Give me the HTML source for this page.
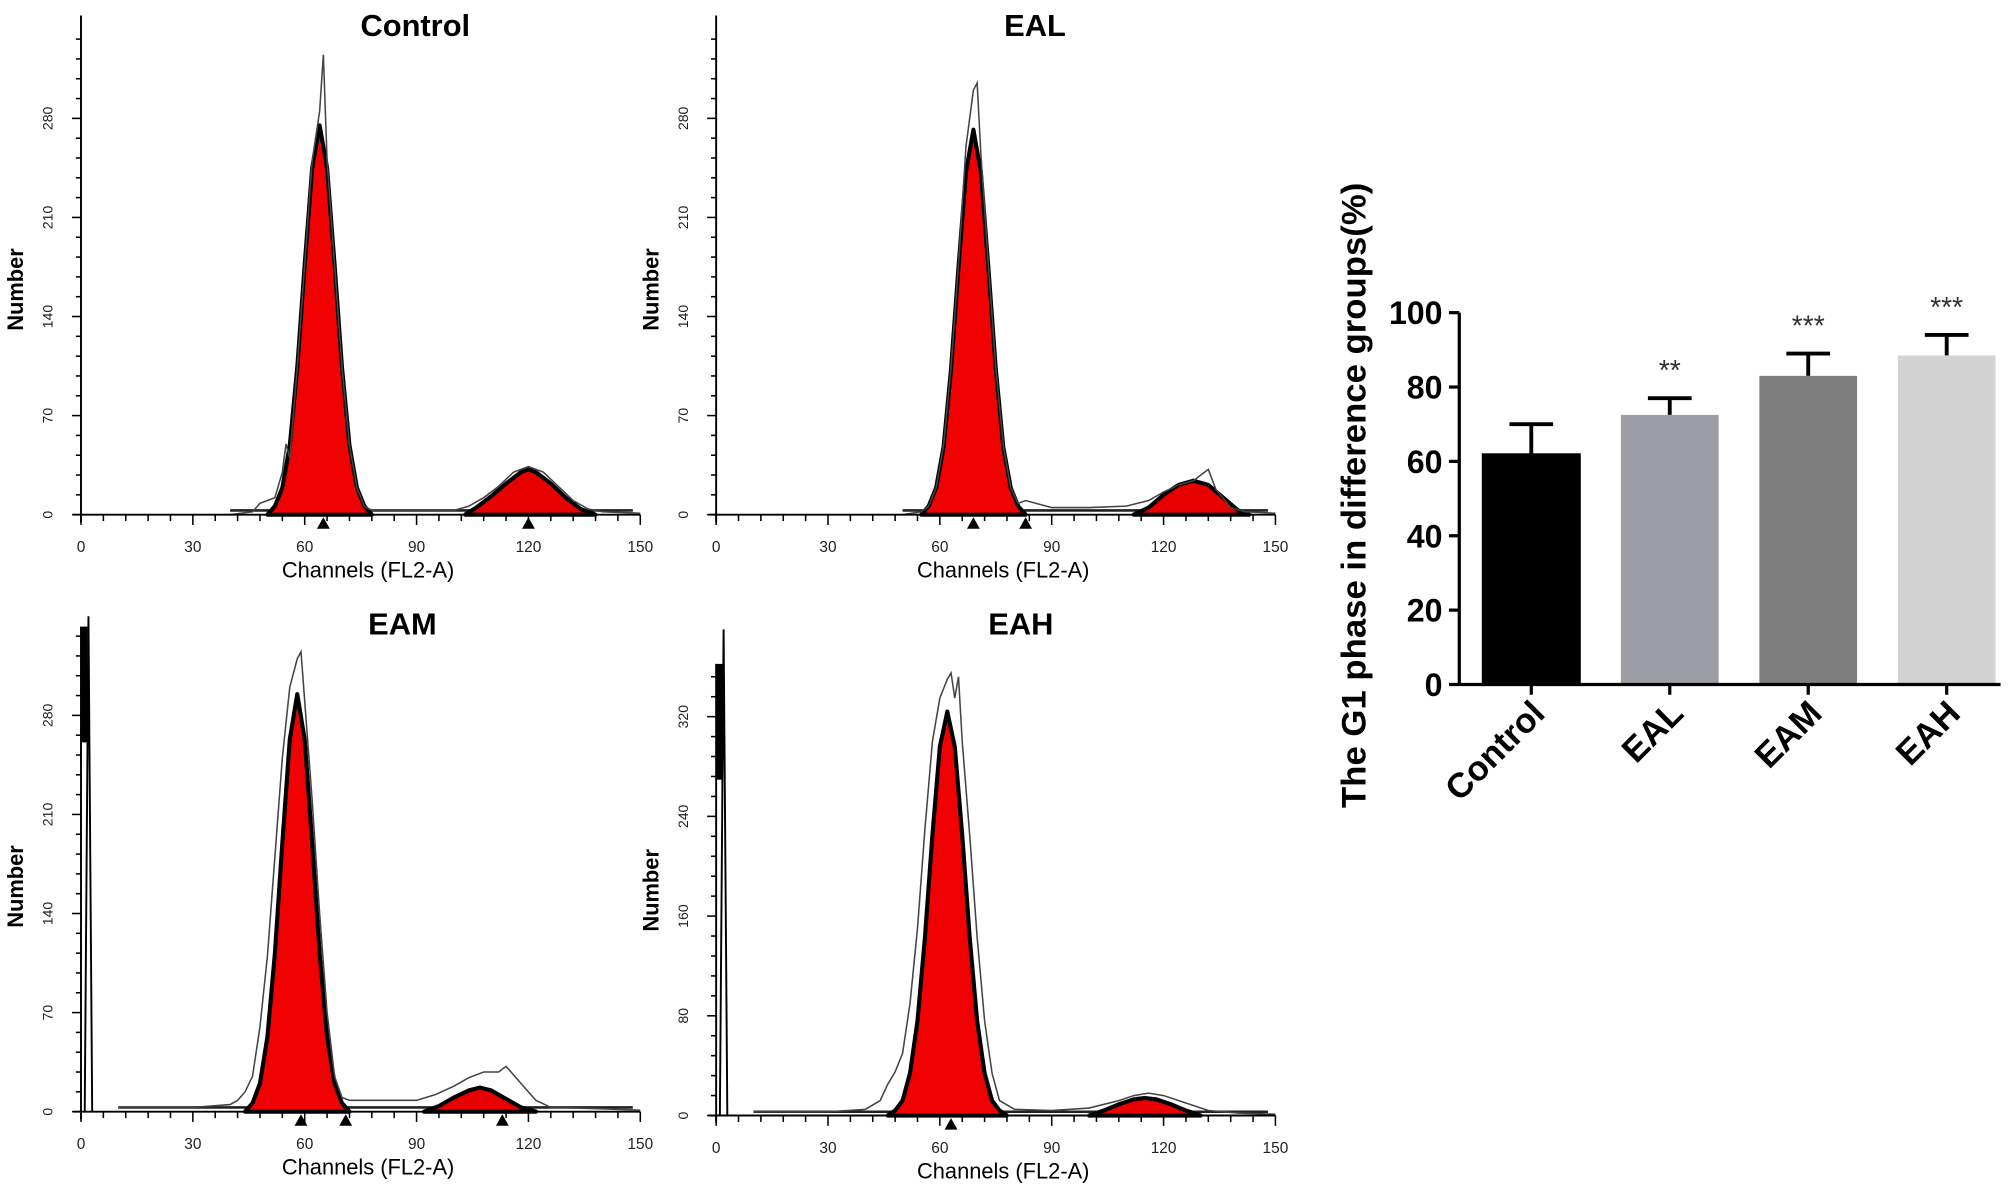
<!DOCTYPE html>
<html><head><meta charset="utf-8"><style>
html,body{margin:0;padding:0;background:#fff;}
svg{display:block;font-family:"Liberation Sans",Arial,sans-serif;}
</style></head><body>
<svg id="fig" width="2016" height="1194" viewBox="0 0 1568 928" preserveAspectRatio="none" xmlns="http://www.w3.org/2000/svg"></svg>
<script>
// ---------- Histogram data (channel / count) ----------
const ctrlG1Ch=[50,52,54,56,58,60,62,64,66,68,70,72,74,76,78];
const ctrlG1=[0,6,19,49,104,177,245,275,245,177,104,49,19,6,0];
const ctrlG2Ch=[103,106,110,114,118,120,122,126,130,134,138];
const ctrlG2=[0,5,13,22,30,32,30,22,12,4,0];
const ctrlRawCh=[40,46,48,50,52,54,55,56,58,60,62,64,65,66,68,70,72,74,76,78,80,90,100,104,108,112,116,120,124,128,132,136,140,150];
const ctrlRaw=[0,2,8,10,12,30,50,40,104,177,250,285,325,250,177,104,49,19,6,3,3,3,3,6,12,20,30,34,30,20,10,4,2,1];

const ealG1Ch=[55,57,59,61,63,65,67,69,71,73,75,77,79,81,83];
const ealG1=[0,6,19,48,103,175,242,272,242,175,103,48,19,6,0];
const ealG2Ch=[112,116,120,124,128,132,136,140,143];
const ealG2=[0,5,14,21,24,21,12,3,0];
const ealRawCh=[50,55,57,59,61,63,65,67,69,70,71,73,75,77,79,81,83,90,100,110,116,120,124,128,130,132,134,138,142,150];
const ealRaw=[0,2,6,19,49,104,177,260,300,305,255,177,104,49,19,8,10,5,5,6,10,16,21,24,28,32,18,5,2,1];

const eamG1Ch=[44,46,48,50,52,54,56,58,60,62,64,66,68,70,72];
const eamG1=[0,6,20,53,112,190,263,295,263,190,112,53,20,6,0];
const eamG2Ch=[92,96,100,104,107,110,114,118,122];
const eamG2=[0,4,10,15,17,15,9,3,0];
const eamRawCh=[10,30,40,42,44,46,48,50,52,54,56,58,59,60,62,64,66,68,70,72,80,90,95,100,104,108,112,114,118,122,126,140,150];
const eamRaw=[3,3,5,8,14,25,60,110,180,250,300,320,325,290,220,140,70,25,10,8,8,8,12,18,24,28,28,32,20,8,3,2,1];
const eamSpikeCh=[1,2,3];
const eamSpike=[0,350,0];

const eahG1Ch=[46,48,50,52,54,56,58,60,62,64,66,68,70,72,74,76,78];
const eahG1=[0,4,12,34,76,143,225,296,324,296,225,143,76,34,12,4,0];
const eahG2Ch=[100,104,108,112,115,118,122,126,130];
const eahG2=[0,4,9,13,14,13,9,4,0];
const eahRawCh=[10,30,40,44,46,48,50,52,54,56,58,60,62,63,64,65,66,68,70,72,74,76,80,90,100,108,112,116,120,126,132,140,150];
const eahRaw=[3,3,5,12,25,35,50,90,150,230,300,335,350,355,335,352,300,225,143,76,34,12,5,4,6,12,16,18,16,10,4,2,1];
const eahSpikeCh=[1,2,3];
const eahSpike=[0,390,0];

// ---------- Bar chart data ----------
const barCats=["Control","EAL","EAM","EAH"];
const barVals=[62,72.5,83,88.5];
const barErr=[8,4.5,6,5.5];
const barSig=["","**","***","***"];
const barTicks=[0,20,40,60,80,100];

const NS="http://www.w3.org/2000/svg";
const svg=document.getElementById('fig');
function mk(tag,attrs,parent,text){const e=document.createElementNS(NS,tag);for(const k in attrs)e.setAttribute(k,attrs[k]);if(text!==undefined)e.textContent=text;(parent||svg).appendChild(e);return e;}

function panel(cfg){
  const g=mk('g',{});
  
  
  const X=c=>cfg.ox+c*(435/150);
  const Y=v=>cfg.base-v*cfg.pxPer;
  const pts=(ch,vals)=>ch.map((c,i)=>X(c).toFixed(1)+','+Y(vals[i]).toFixed(1)).join(' ');
  mk('line',{x1:X(cfg.noiseFrom),y1:Y(3),x2:X(148),y2:Y(3),stroke:'#222','stroke-width':2},g);
  const g1=mk('polygon',{points:pts(cfg.g1Ch,cfg.g1),fill:'#f00000',stroke:'#000','stroke-width':3.2,'stroke-linejoin':'round'},g);
  
  
  const g2=mk('polygon',{points:pts(cfg.g2Ch,cfg.g2),fill:'#e80000',stroke:'#000','stroke-width':3.2,'stroke-linejoin':'round'},g);
  
  
  const raw=mk('polyline',{points:pts(cfg.rawCh,cfg.raw),fill:'none',stroke:'#444','stroke-width':1.2},g);
  
  
  if(cfg.spikeCh){
    const sp=mk('polyline',{points:pts(cfg.spikeCh,cfg.spike),fill:'none',stroke:'#000','stroke-width':1.5},g);
    
    
    mk('rect',{x:cfg.ox,y:cfg.top,width:5,height:90,fill:'#000'},g);
  }
  mk('line',{x1:cfg.ox,y1:cfg.top,x2:cfg.ox,y2:cfg.base+6,stroke:'#000','stroke-width':1.5},g);
  mk('line',{x1:cfg.ox-6,y1:cfg.base,x2:X(150),y2:cfg.base,stroke:'#000','stroke-width':1.5},g);
  for(let c=0;c<=150;c+=6){
    const major=c%30===0;
    mk('line',{x1:X(c),y1:cfg.base,x2:X(c),y2:cfg.base+(major?8:5),stroke:'#000','stroke-width':1.2},g);
    if(major){const t=mk('text',{x:X(c),y:cfg.base+29,'font-size':12,'text-anchor':'middle',fill:'#222'},g,String(c));
      }
  }
  const minor=cfg.yStep/5;
  for(let v=0;Y(v)>=cfg.top+4;v+=minor){
    const major=Math.abs(v/cfg.yStep-Math.round(v/cfg.yStep))<1e-6;
    mk('line',{x1:cfg.ox-(major?7:4),y1:Y(v),x2:cfg.ox,y2:Y(v),stroke:'#000','stroke-width':1.2},g);
    if(major && v<=cfg.yMax){const t=mk('text',{transform:`translate(${cfg.ox-22},${Y(v)}) rotate(-90)`,'font-size':11,'text-anchor':'middle',fill:'#222'},g,String(Math.round(v)));
      }
  }
  cfg.marks.forEach(c=>{mk('polygon',{points:`${X(c)-5},${cfg.base+11} ${X(c)+5},${cfg.base+11} ${X(c)},${cfg.base+2}`,fill:'#000'},g);});
  const ti=mk('text',{x:cfg.ox+cfg.titleDx,y:cfg.titleY,'font-size':24,'font-weight':'bold','text-anchor':'middle'},g,cfg.title);
  
  const yl=mk('text',{transform:`translate(${cfg.ox-45},${cfg.base-175}) rotate(-90)`,'font-size':17,'font-weight':'bold','text-anchor':'middle'},g,'Number');
  
  const xl=mk('text',{x:X(77),y:cfg.base+49,'font-size':17,'text-anchor':'middle'},g,'Channels (FL2-A)');
  
}

panel({name:'control-histogram',title:'Control',ox:63,base:400,top:12,pxPer:77/70,yStep:70,yMax:280,titleDx:260,titleY:28,
  g1Ch:ctrlG1Ch,g1:ctrlG1,g2Ch:ctrlG2Ch,g2:ctrlG2,rawCh:ctrlRawCh,raw:ctrlRaw,noiseFrom:40,marks:[65,120]});
panel({name:'eal-histogram',title:'EAL',ox:557,base:400,top:12,pxPer:77/70,yStep:70,yMax:280,titleDx:248,titleY:28,
  g1Ch:ealG1Ch,g1:ealG1,g2Ch:ealG2Ch,g2:ealG2,rawCh:ealRawCh,raw:ealRaw,noiseFrom:50,marks:[69,83]});
panel({name:'eam-histogram',title:'EAM',ox:63,base:864,top:487,pxPer:77/70,yStep:70,yMax:280,titleDx:250,titleY:493,
  g1Ch:eamG1Ch,g1:eamG1,g2Ch:eamG2Ch,g2:eamG2,rawCh:eamRawCh,raw:eamRaw,noiseFrom:10,marks:[59,71,113],spikeCh:eamSpikeCh,spike:eamSpike});
panel({name:'eah-histogram',title:'EAH',ox:557,base:867,top:516,pxPer:77.5/80,yStep:80,yMax:320,titleDx:237,titleY:493,
  g1Ch:eahG1Ch,g1:eahG1,g2Ch:eahG2Ch,g2:eahG2,rawCh:eahRawCh,raw:eahRaw,noiseFrom:10,marks:[63],spikeCh:eahSpikeCh,spike:eahSpike});

// ---------- Bar chart ----------
(function(){
  const g=mk('g',{});
  
  
  const ox=1135, base=532, top=243;
  const Y=v=>base-(v/100)*(base-top);
  const bw=76, step=107.7, x0=1153;
  barTicks.forEach(v=>{
    mk('line',{x1:ox-8,y1:Y(v),x2:ox,y2:Y(v),stroke:'#000','stroke-width':2.5},g);
    const t=mk('text',{x:ox-13,y:Y(v)+9,'font-size':25,'font-weight':'bold','text-anchor':'end'},g,String(v));
    
  });
  const cols=['#000000','#9d9da5','#7f7f7f','#d3d3d3'];
  barCats.forEach((c,i)=>{
    const x=x0+i*step, cx=x+bw/2;
    const ye=Y(barVals[i]+barErr[i]);
    mk('line',{x1:cx,y1:Y(barVals[i]),x2:cx,y2:ye,stroke:'#000','stroke-width':3},g);
    mk('line',{x1:cx-17,y1:ye,x2:cx+17,y2:ye,stroke:'#000','stroke-width':3},g);
    const b=mk('rect',{x:x,y:Y(barVals[i]),width:bw,height:base-Y(barVals[i]),fill:cols[i],stroke:i===0?'#000':'none'},g);
    
    
    if(barSig[i]){const s=mk('text',{x:cx,y:ye-14,'font-size':22,'text-anchor':'middle',fill:'#333'},g,barSig[i]);
      }
    mk('line',{x1:cx,y1:base,x2:cx,y2:base+8,stroke:'#000','stroke-width':2.5},g);
    const l=mk('text',{transform:`translate(${cx+12},${base+24}) rotate(-45)`,'font-size':27,'font-weight':'bold','text-anchor':'end'},g,c);
    
  });
  mk('line',{x1:ox,y1:top,x2:ox,y2:base,stroke:'#000','stroke-width':2.5},g);
  mk('line',{x1:ox,y1:base,x2:1556,y2:base,stroke:'#000','stroke-width':2.5},g);
  const yt=mk('text',{transform:`translate(1062,385) rotate(-90)`,'font-size':27,'font-weight':'bold','text-anchor':'middle'},g,'The G1 phase in difference groups(%)');
  
})();
</script>
</body></html>
